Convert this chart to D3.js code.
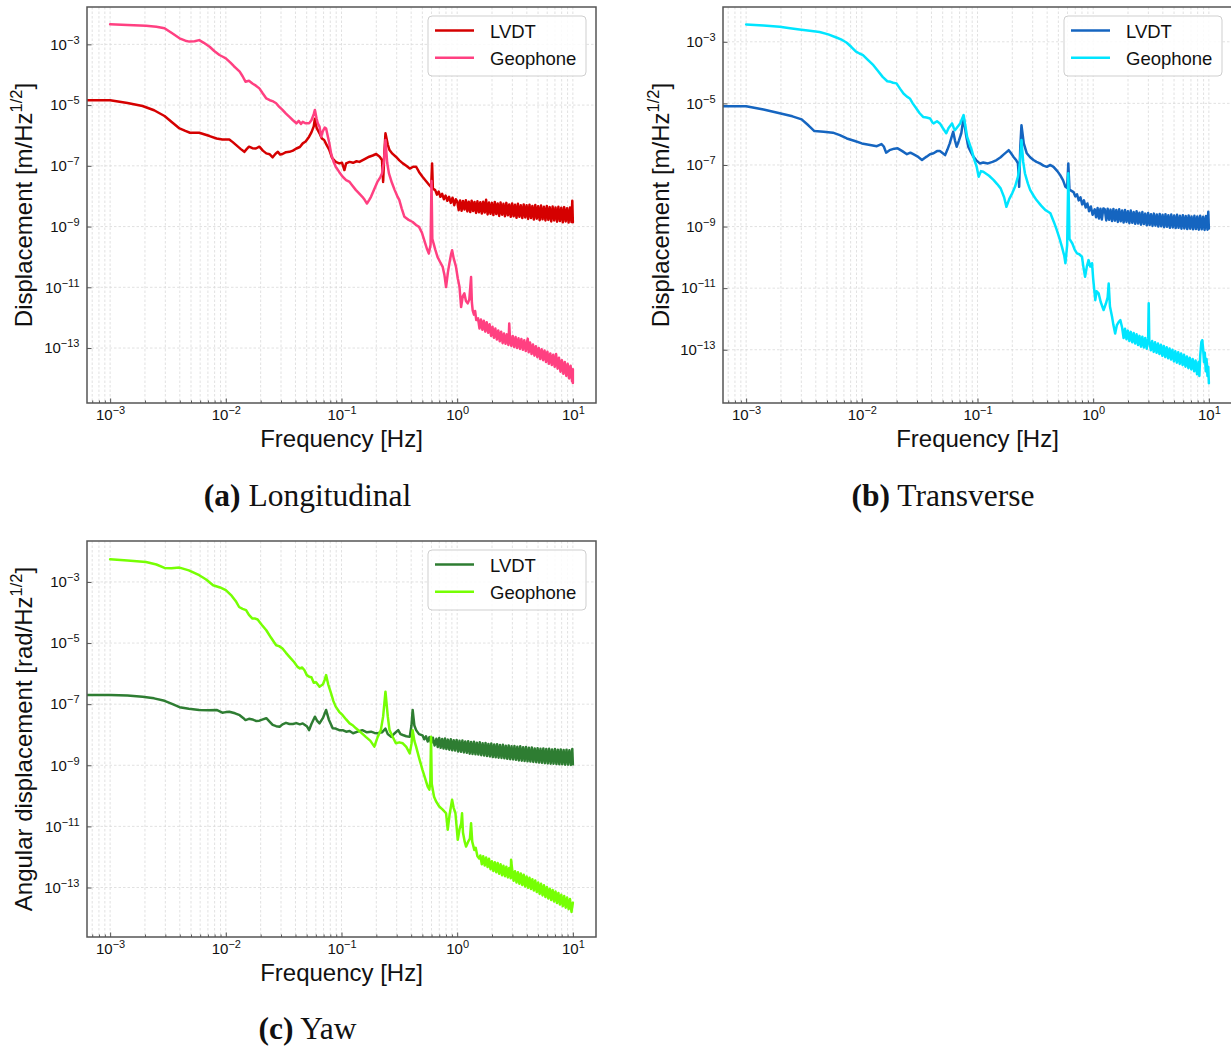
<!DOCTYPE html>
<html><head><meta charset="utf-8">
<script src="https://cdn.jsdelivr.net/npm/d3@7"></script>
<style>html,body{margin:0;padding:0;background:#fff;} svg{display:block;}</style>
</head><body><svg id="chart" width="1231" height="1048"></svg>
<script>
// ---------- tick labels (powers of ten) ----------
const xTickExps = [-3, -2, -1, 0, 1];
const yTickExps = [-3, -5, -7, -9, -11, -13];
const seriesNames = ["LVDT", "Geophone"];
const captions = [["(a)", "Longitudinal"], ["(b)", "Transverse"], ["(c)", "Yaw"]];
const yLabels = [["Displacement [m/Hz", "1/2", "]"], ["Displacement [m/Hz", "1/2", "]"], ["Angular displacement [rad/Hz", "1/2", "]"]];
const xLabel = "Frequency [Hz]";

// ---------- data: [log10(frequency/Hz), log10(ASD)] ----------
const longLvdt = [[-3.3,-4.84],[-3.0,-4.84],[-2.85,-4.93],[-2.72,-5.03],[-2.62,-5.17],[-2.53,-5.36],[-2.46,-5.58],[-2.40,-5.77],[-2.35,-5.85],[-2.31,-5.91],[-2.23,-5.91],[-2.14,-6.02],[-2.08,-6.10],[-2.03,-6.13],[-1.97,-6.13],[-1.94,-6.22],[-1.91,-6.32],[-1.87,-6.45],[-1.84,-6.54],[-1.82,-6.45],[-1.80,-6.37],[-1.77,-6.42],[-1.74,-6.43],[-1.71,-6.37],[-1.68,-6.50],[-1.65,-6.59],[-1.62,-6.62],[-1.595,-6.72],[-1.57,-6.60],[-1.55,-6.54],[-1.53,-6.63],[-1.51,-6.61],[-1.48,-6.55],[-1.45,-6.54],[-1.42,-6.50],[-1.39,-6.43],[-1.36,-6.38],[-1.335,-6.26],[-1.31,-6.20],[-1.28,-6.04],[-1.26,-5.90],[-1.24,-5.70],[-1.23,-5.45],[-1.215,-5.75],[-1.19,-5.93],[-1.17,-6.10],[-1.15,-6.15],[-1.13,-6.30],[-1.105,-6.48],[-1.08,-6.75],[-1.05,-6.87],[-1.02,-6.92],[-0.995,-6.90],[-0.975,-7.14],[-0.96,-6.92],[-0.93,-6.87],[-0.90,-6.90],[-0.87,-6.85],[-0.845,-6.87],[-0.80,-6.78],[-0.76,-6.70],[-0.73,-6.66],[-0.70,-6.61],[-0.67,-6.70],[-0.65,-6.81],[-0.64,-7.53],[-0.63,-6.60],[-0.62,-5.93],[-0.60,-6.30],[-0.585,-6.48],[-0.56,-6.60],[-0.53,-6.70],[-0.50,-6.82],[-0.47,-6.92],[-0.44,-7.00],[-0.41,-7.09],[-0.38,-7.03],[-0.355,-7.03],[-0.33,-7.20],[-0.30,-7.36],[-0.27,-7.50],[-0.24,-7.64],[-0.225,-7.70],[-0.217,-6.92],[-0.21,-7.75],[-0.19,-7.80],[-0.175,-7.95],[-0.16,-7.85],[-0.145,-8.02],[-0.13,-7.92],[-0.115,-8.10],[-0.10,-7.98],[-0.085,-8.15],[-0.07,-8.02],[-0.055,-8.22],[-0.04,-8.05],[-0.025,-8.30],[-0.012,-8.10],
[0.000,-8.17],[0.013,-8.46],[0.025,-8.14],[0.038,-8.48],[0.050,-8.16],[0.063,-8.44],[0.075,-8.13],[0.088,-8.50],
[0.100,-8.18],[0.113,-8.52],[0.125,-8.15],[0.138,-8.49],[0.150,-8.19],[0.163,-8.55],[0.175,-8.17],[0.188,-8.53],
[0.200,-8.20],[0.213,-8.57],[0.225,-8.18],[0.238,-8.54],[0.250,-8.12],[0.263,-8.60],[0.275,-8.21],[0.288,-8.58],
[0.300,-8.22],[0.313,-8.62],[0.325,-8.19],[0.338,-8.59],[0.350,-8.24],[0.363,-8.65],[0.375,-8.21],[0.388,-8.61],
[0.400,-8.25],[0.413,-8.66],[0.425,-8.22],[0.438,-8.63],[0.450,-8.27],[0.463,-8.68],[0.475,-8.24],[0.488,-8.66],
[0.500,-8.28],[0.513,-8.71],[0.525,-8.25],[0.538,-8.68],[0.550,-8.30],[0.563,-8.72],[0.575,-8.27],[0.588,-8.70],
[0.600,-8.30],[0.613,-8.75],[0.625,-8.28],[0.638,-8.72],[0.650,-8.32],[0.663,-8.77],[0.675,-8.29],[0.688,-8.74],
[0.700,-8.33],[0.713,-8.79],[0.725,-8.31],[0.738,-8.76],[0.750,-8.35],[0.763,-8.80],[0.775,-8.32],[0.788,-8.78],
[0.800,-8.36],[0.813,-8.83],[0.825,-8.34],[0.838,-8.80],[0.850,-8.37],[0.863,-8.84],[0.875,-8.35],[0.888,-8.82],
[0.900,-8.38],[0.913,-8.86],[0.925,-8.36],[0.938,-8.83],[0.950,-8.40],[0.963,-8.87],[0.975,-8.37],[0.988,-8.85],
[0.995,-8.15],[1.000,-8.86]];

const longGeo = [[-3.0,-2.34],[-2.85,-2.36],[-2.69,-2.39],[-2.60,-2.42],[-2.53,-2.47],[-2.47,-2.62],[-2.40,-2.80],[-2.35,-2.88],[-2.315,-2.91],[-2.27,-2.90],[-2.23,-2.86],[-2.19,-2.95],[-2.14,-3.08],[-2.10,-3.22],[-2.055,-3.35],[-2.03,-3.40],[-2.0,-3.46],[-1.96,-3.60],[-1.93,-3.72],[-1.91,-3.79],[-1.88,-3.90],[-1.855,-4.05],[-1.83,-4.23],[-1.80,-4.20],[-1.77,-4.29],[-1.74,-4.36],[-1.71,-4.45],[-1.68,-4.62],[-1.65,-4.78],[-1.62,-4.84],[-1.59,-4.88],[-1.565,-4.94],[-1.54,-5.05],[-1.51,-5.16],[-1.48,-5.28],[-1.45,-5.39],[-1.42,-5.50],[-1.39,-5.60],[-1.37,-5.52],[-1.35,-5.62],[-1.335,-5.55],[-1.31,-5.60],[-1.28,-5.60],[-1.26,-5.50],[-1.24,-5.30],[-1.23,-5.16],[-1.215,-5.45],[-1.205,-5.60],[-1.19,-5.71],[-1.176,-6.04],[-1.16,-5.85],[-1.145,-5.74],[-1.133,-5.77],[-1.12,-6.00],[-1.105,-6.26],[-1.09,-6.59],[-1.07,-6.85],[-1.05,-7.03],[-1.02,-7.20],[-0.99,-7.36],[-0.96,-7.47],[-0.93,-7.53],[-0.90,-7.68],[-0.875,-7.80],[-0.85,-7.90],[-0.82,-8.02],[-0.80,-8.12],[-0.78,-8.24],[-0.76,-8.12],[-0.745,-8.02],[-0.72,-7.80],[-0.69,-7.53],[-0.665,-7.38],[-0.65,-7.25],[-0.635,-6.90],[-0.62,-6.15],[-0.605,-6.90],[-0.59,-7.25],[-0.565,-7.55],[-0.54,-7.80],[-0.52,-7.98],[-0.50,-8.13],[-0.48,-8.40],[-0.456,-8.68],[-0.42,-8.78],[-0.385,-8.85],[-0.355,-8.95],[-0.33,-9.01],[-0.305,-9.20],[-0.285,-9.45],[-0.26,-9.75],[-0.245,-9.89],[-0.23,-9.60],[-0.222,-7.50],[-0.215,-9.40],[-0.19,-9.75],[-0.17,-10.0],[-0.15,-10.15],[-0.125,-10.33],[-0.11,-10.60],[-0.096,-10.99],[-0.08,-10.50],[-0.067,-10.21],[-0.055,-9.95],[-0.044,-9.78],[-0.03,-10.05],[-0.01,-10.33],[0.005,-10.70],[0.02,-10.99],[0.034,-11.65],[0.048,-11.30],[0.062,-11.20],[0.076,-11.45],[0.091,-11.53],[0.105,-11.40],[0.12,-10.66],[0.127,-11.50],[0.134,-11.76],[0.145,-11.90],[0.155,-11.78],[0.165,-12.08],
[0.180,-12.02],[0.193,-12.36],[0.205,-12.06],[0.218,-12.40],[0.230,-12.10],[0.243,-12.46],[0.255,-12.15],[0.268,-12.50],[0.280,-12.22],[0.293,-12.60],
[0.305,-12.30],[0.318,-12.66],[0.330,-12.36],[0.343,-12.72],[0.355,-12.42],[0.368,-12.78],[0.380,-12.46],[0.393,-12.84],[0.405,-12.52],[0.418,-12.86],
[0.430,-12.55],[0.443,-12.90],[0.450,-12.19],[0.455,-12.58],[0.468,-12.93],[0.480,-12.60],[0.493,-12.97],[0.505,-12.64],[0.518,-13.00],[0.530,-12.68],[0.543,-13.03],
[0.555,-12.70],[0.568,-13.06],[0.580,-12.74],[0.593,-13.10],[0.605,-12.78],[0.610,-12.69],[0.618,-13.14],[0.630,-12.82],[0.643,-13.20],[0.655,-12.88],[0.668,-13.25],
[0.680,-12.94],[0.693,-13.30],[0.705,-13.00],[0.718,-13.36],[0.730,-13.04],[0.743,-13.40],[0.755,-13.08],[0.768,-13.46],[0.780,-13.12],[0.793,-13.52],
[0.805,-13.18],[0.818,-13.56],[0.830,-13.22],[0.843,-13.62],[0.855,-13.20],[0.868,-13.68],[0.880,-13.32],[0.893,-13.78],[0.905,-13.40],[0.918,-13.85],
[0.930,-13.46],[0.943,-13.92],[0.955,-13.52],[0.968,-14.00],[0.980,-13.58],[0.993,-14.10],[1.000,-13.70],[1.000,-14.15]];

const transLvdt = [[-3.3,-5.09],[-3.0,-5.09],[-2.85,-5.20],[-2.71,-5.32],[-2.60,-5.42],[-2.52,-5.52],[-2.46,-5.72],[-2.41,-5.90],[-2.33,-5.92],[-2.25,-5.95],[-2.19,-6.03],[-2.13,-6.14],[-2.06,-6.22],[-2.0,-6.30],[-1.94,-6.34],[-1.87,-6.39],[-1.83,-6.32],[-1.81,-6.40],[-1.79,-6.60],[-1.76,-6.52],[-1.72,-6.47],[-1.69,-6.46],[-1.65,-6.55],[-1.61,-6.65],[-1.58,-6.60],[-1.555,-6.65],[-1.52,-6.72],[-1.48,-6.84],[-1.46,-6.78],[-1.44,-6.73],[-1.41,-6.65],[-1.38,-6.62],[-1.35,-6.55],[-1.325,-6.55],[-1.30,-6.62],[-1.28,-6.68],[-1.26,-6.50],[-1.24,-6.30],[-1.21,-5.92],[-1.195,-6.20],[-1.18,-6.41],[-1.16,-6.20],[-1.14,-5.97],[-1.12,-5.45],[-1.10,-6.00],[-1.08,-6.41],[-1.055,-6.60],[-1.036,-6.73],[-1.01,-6.85],[-0.98,-6.95],[-0.95,-6.92],[-0.91,-6.95],[-0.87,-6.90],[-0.835,-6.84],[-0.80,-6.75],[-0.78,-6.68],[-0.755,-6.60],[-0.73,-6.52],[-0.71,-6.62],[-0.69,-6.73],[-0.665,-6.85],[-0.65,-6.95],[-0.64,-7.71],[-0.63,-6.40],[-0.62,-5.71],[-0.60,-6.30],[-0.574,-6.62],[-0.545,-6.75],[-0.516,-6.84],[-0.49,-6.90],[-0.46,-6.95],[-0.43,-7.02],[-0.40,-7.06],[-0.37,-7.00],[-0.343,-7.06],[-0.31,-7.20],[-0.285,-7.33],[-0.26,-7.50],[-0.24,-7.71],[-0.225,-7.75],[-0.215,-6.95],[-0.205,-7.80],[-0.17,-7.88],[-0.155,-8.02],[-0.14,-7.95],[-0.125,-8.15],[-0.11,-8.05],[-0.095,-8.28],[-0.08,-8.15],[-0.065,-8.38],[-0.05,-8.25],[-0.035,-8.50],[-0.02,-8.35],[-0.005,-8.62],
[0.013,-8.44],[0.025,-8.70],[0.038,-8.40],[0.050,-8.74],[0.063,-8.42],[0.075,-8.77],[0.088,-8.41],
[0.100,-8.44],[0.113,-8.80],[0.125,-8.42],[0.138,-8.78],[0.150,-8.45],[0.163,-8.82],[0.175,-8.43],[0.188,-8.81],
[0.200,-8.46],[0.213,-8.85],[0.225,-8.44],[0.238,-8.83],[0.250,-8.48],[0.263,-8.87],[0.275,-8.46],[0.288,-8.85],
[0.300,-8.50],[0.313,-8.89],[0.325,-8.48],[0.338,-8.88],[0.350,-8.53],[0.363,-8.91],[0.375,-8.50],[0.388,-8.90],
[0.400,-8.55],[0.413,-8.94],[0.425,-8.53],[0.438,-8.92],[0.450,-8.58],[0.463,-8.96],[0.475,-8.56],[0.488,-8.95],
[0.500,-8.60],[0.513,-8.98],[0.525,-8.58],[0.538,-8.97],[0.550,-8.61],[0.563,-9.00],[0.575,-8.59],[0.588,-8.99],
[0.600,-8.62],[0.613,-9.02],[0.625,-8.60],[0.638,-9.01],[0.650,-8.63],[0.663,-9.04],[0.675,-8.61],[0.688,-9.03],
[0.700,-8.64],[0.713,-9.05],[0.725,-8.62],[0.738,-9.04],[0.750,-8.65],[0.763,-9.07],[0.775,-8.63],[0.788,-9.06],
[0.800,-8.66],[0.813,-9.08],[0.825,-8.64],[0.838,-9.07],[0.850,-8.67],[0.863,-9.09],[0.875,-8.65],[0.888,-9.08],
[0.900,-8.67],[0.913,-9.10],[0.925,-8.65],[0.938,-9.09],[0.950,-8.68],[0.963,-9.11],[0.975,-8.66],[0.988,-9.10],
[0.995,-8.52],[1.000,-9.06]];

const transGeo = [[-3.0,-2.44],[-2.85,-2.47],[-2.71,-2.51],[-2.62,-2.56],[-2.54,-2.60],[-2.45,-2.64],[-2.365,-2.68],[-2.29,-2.76],[-2.22,-2.86],[-2.17,-2.94],[-2.13,-3.03],[-2.09,-3.17],[-2.05,-3.32],[-2.02,-3.38],[-1.99,-3.43],[-1.95,-3.58],[-1.90,-3.76],[-1.86,-3.95],[-1.82,-4.14],[-1.78,-4.28],[-1.75,-4.30],[-1.73,-4.33],[-1.70,-4.35],[-1.67,-4.52],[-1.64,-4.68],[-1.61,-4.78],[-1.585,-4.84],[-1.56,-5.00],[-1.53,-5.16],[-1.50,-5.32],[-1.47,-5.44],[-1.44,-5.46],[-1.41,-5.49],[-1.39,-5.62],[-1.38,-5.65],[-1.35,-5.58],[-1.325,-5.65],[-1.30,-5.80],[-1.27,-5.97],[-1.25,-5.80],[-1.22,-5.65],[-1.205,-5.80],[-1.195,-5.87],[-1.17,-5.75],[-1.15,-5.65],[-1.12,-5.38],[-1.10,-5.85],[-1.09,-6.08],[-1.07,-6.30],[-1.05,-6.52],[-1.03,-6.80],[-1.007,-7.06],[-0.99,-7.38],[-0.97,-7.20],[-0.95,-7.22],[-0.90,-7.35],[-0.86,-7.49],[-0.83,-7.62],[-0.80,-7.76],[-0.77,-8.05],[-0.75,-8.36],[-0.725,-8.10],[-0.70,-7.92],[-0.675,-7.70],[-0.65,-7.38],[-0.635,-7.00],[-0.62,-6.19],[-0.605,-6.90],[-0.59,-7.27],[-0.565,-7.60],[-0.545,-7.81],[-0.515,-8.00],[-0.49,-8.14],[-0.45,-8.32],[-0.415,-8.46],[-0.39,-8.52],[-0.37,-8.57],[-0.34,-8.85],[-0.315,-9.11],[-0.29,-9.40],[-0.27,-9.66],[-0.25,-9.95],[-0.24,-10.19],[-0.225,-9.60],[-0.215,-7.27],[-0.205,-9.40],[-0.18,-9.55],[-0.16,-9.75],[-0.14,-9.87],[-0.12,-9.90],[-0.097,-9.98],[-0.085,-10.30],[-0.07,-10.63],[-0.055,-10.30],[-0.04,-10.09],[-0.025,-10.30],[-0.01,-10.19],[0.0,-10.70],[0.018,-11.39],[0.03,-11.10],[0.047,-11.17],[0.065,-11.45],[0.09,-11.71],[0.11,-11.50],[0.125,-11.30],[0.134,-10.85],[0.145,-11.60],[0.163,-11.93],[0.175,-12.20],[0.19,-12.47],[0.205,-12.20],[0.22,-12.10],[0.235,-12.04],
[0.250,-12.28],[0.263,-12.62],[0.275,-12.32],[0.288,-12.66],[0.300,-12.38],[0.313,-12.72],[0.325,-12.42],[0.338,-12.76],[0.350,-12.46],[0.363,-12.80],[0.375,-12.50],[0.388,-12.85],
[0.400,-12.55],[0.413,-12.90],[0.425,-12.58],[0.438,-12.93],[0.450,-12.62],[0.463,-12.97],[0.475,-12.64],[0.480,-11.49],[0.485,-12.70],[0.498,-13.02],
[0.510,-12.72],[0.523,-13.07],[0.535,-12.76],[0.548,-13.10],[0.560,-12.80],[0.573,-13.14],[0.585,-12.84],[0.598,-13.20],
[0.610,-12.88],[0.623,-13.24],[0.635,-12.92],[0.648,-13.28],[0.660,-12.96],[0.673,-13.32],[0.685,-13.00],[0.698,-13.38],
[0.710,-13.05],[0.723,-13.42],[0.735,-13.08],[0.748,-13.46],[0.760,-13.12],[0.773,-13.50],[0.785,-13.16],[0.798,-13.55],
[0.810,-13.22],[0.823,-13.60],[0.835,-13.26],[0.848,-13.64],[0.860,-13.30],[0.873,-13.70],[0.885,-13.35],[0.898,-13.80],
[0.910,-13.40],[0.918,-13.85],[0.925,-13.20],[0.935,-12.75],[0.943,-12.69],[0.950,-12.95],[0.958,-13.40],[0.965,-13.10],[0.973,-13.70],[0.980,-13.30],[0.988,-13.85],[0.995,-13.55],[1.000,-14.09]];

const yawLvdt = [[-3.3,-6.70],[-3.0,-6.70],[-2.85,-6.72],[-2.72,-6.76],[-2.62,-6.81],[-2.53,-6.89],[-2.46,-7.00],[-2.40,-7.10],[-2.32,-7.15],[-2.23,-7.19],[-2.15,-7.20],[-2.08,-7.19],[-2.03,-7.28],[-2.0,-7.26],[-1.97,-7.25],[-1.92,-7.30],[-1.88,-7.36],[-1.85,-7.45],[-1.83,-7.52],[-1.80,-7.48],[-1.77,-7.50],[-1.74,-7.55],[-1.71,-7.54],[-1.68,-7.50],[-1.65,-7.46],[-1.62,-7.58],[-1.595,-7.68],[-1.565,-7.72],[-1.535,-7.74],[-1.51,-7.66],[-1.48,-7.61],[-1.45,-7.65],[-1.42,-7.65],[-1.39,-7.62],[-1.36,-7.66],[-1.335,-7.63],[-1.30,-7.72],[-1.28,-7.85],[-1.26,-7.65],[-1.23,-7.41],[-1.21,-7.55],[-1.19,-7.63],[-1.16,-7.45],[-1.133,-7.19],[-1.11,-7.50],[-1.076,-7.79],[-1.05,-7.80],[-1.02,-7.85],[-0.99,-7.85],[-0.96,-7.90],[-0.93,-7.88],[-0.90,-7.95],[-0.86,-7.90],[-0.82,-7.85],[-0.78,-7.92],[-0.745,-7.90],[-0.715,-7.94],[-0.69,-7.95],[-0.65,-7.92],[-0.62,-7.80],[-0.60,-7.98],[-0.57,-8.07],[-0.54,-7.95],[-0.51,-7.85],[-0.49,-7.98],[-0.47,-8.01],[-0.44,-8.05],[-0.41,-8.07],[-0.395,-7.70],[-0.385,-7.19],[-0.37,-7.70],[-0.355,-7.85],[-0.33,-7.98],[-0.30,-8.02],[-0.285,-8.15],[-0.27,-8.05],[-0.255,-8.22],[-0.24,-8.08],[-0.225,-8.28],[-0.21,-8.10],[-0.195,-8.35],
[-0.180,-8.13],[-0.168,-8.40],[-0.155,-8.11],[-0.143,-8.43],[-0.130,-8.14],[-0.118,-8.45],[-0.105,-8.12],[-0.093,-8.47],[-0.080,-8.16],[-0.068,-8.49],[-0.055,-8.15],[-0.043,-8.51],[-0.030,-8.18],[-0.018,-8.52],[-0.005,-8.17],
[0.008,-8.55],[0.020,-8.20],[0.033,-8.56],[0.045,-8.19],[0.058,-8.58],[0.070,-8.22],[0.083,-8.59],[0.095,-8.21],
[0.108,-8.62],[0.120,-8.24],[0.133,-8.63],[0.145,-8.23],[0.158,-8.64],[0.170,-8.26],[0.183,-8.65],[0.195,-8.25],
[0.208,-8.67],[0.220,-8.28],[0.233,-8.68],[0.245,-8.27],[0.258,-8.70],[0.270,-8.30],[0.283,-8.71],[0.295,-8.29],
[0.308,-8.73],[0.320,-8.32],[0.333,-8.74],[0.345,-8.31],[0.358,-8.75],[0.370,-8.34],[0.383,-8.76],[0.395,-8.33],
[0.408,-8.77],[0.420,-8.36],[0.433,-8.79],[0.445,-8.35],[0.458,-8.80],[0.470,-8.38],[0.483,-8.81],[0.495,-8.37],
[0.508,-8.82],[0.520,-8.39],[0.533,-8.84],[0.545,-8.38],[0.558,-8.85],[0.570,-8.41],[0.583,-8.86],[0.595,-8.40],
[0.608,-8.87],[0.620,-8.43],[0.633,-8.88],[0.645,-8.42],[0.658,-8.89],[0.670,-8.45],[0.683,-8.90],[0.695,-8.44],
[0.708,-8.91],[0.720,-8.46],[0.733,-8.92],[0.745,-8.45],[0.758,-8.93],[0.770,-8.47],[0.783,-8.94],[0.795,-8.46],
[0.808,-8.95],[0.820,-8.48],[0.833,-8.95],[0.845,-8.47],[0.858,-8.96],[0.870,-8.49],[0.883,-8.97],[0.895,-8.48],
[0.908,-8.97],[0.920,-8.50],[0.933,-8.98],[0.945,-8.49],[0.958,-8.98],[0.970,-8.51],[0.983,-8.99],[0.995,-8.47],[1.000,-8.97]];

const yawGeo = [[-3.0,-2.26],[-2.85,-2.30],[-2.69,-2.35],[-2.60,-2.43],[-2.53,-2.54],[-2.47,-2.55],[-2.40,-2.53],[-2.32,-2.62],[-2.23,-2.78],[-2.17,-2.92],[-2.11,-3.11],[-2.05,-3.18],[-2.0,-3.27],[-1.95,-3.45],[-1.91,-3.65],[-1.885,-3.82],[-1.855,-3.88],[-1.825,-3.92],[-1.80,-4.08],[-1.77,-4.20],[-1.745,-4.20],[-1.725,-4.23],[-1.69,-4.40],[-1.65,-4.58],[-1.61,-4.82],[-1.565,-5.07],[-1.54,-5.10],[-1.51,-5.18],[-1.48,-5.32],[-1.45,-5.45],[-1.41,-5.62],[-1.38,-5.78],[-1.36,-5.83],[-1.34,-5.80],[-1.32,-5.89],[-1.30,-6.05],[-1.28,-6.10],[-1.26,-6.12],[-1.24,-6.30],[-1.22,-6.28],[-1.19,-6.43],[-1.16,-6.35],[-1.145,-6.20],[-1.133,-6.05],[-1.115,-6.35],[-1.09,-6.65],[-1.07,-6.90],[-1.05,-7.08],[-1.02,-7.25],[-0.99,-7.36],[-0.96,-7.50],[-0.93,-7.63],[-0.90,-7.70],[-0.875,-7.79],[-0.84,-7.90],[-0.79,-8.07],[-0.75,-8.20],[-0.716,-8.39],[-0.69,-8.10],[-0.66,-7.85],[-0.64,-7.40],[-0.62,-6.59],[-0.60,-7.40],[-0.585,-7.85],[-0.56,-8.05],[-0.53,-8.28],[-0.50,-8.25],[-0.47,-8.28],[-0.44,-8.40],[-0.41,-8.61],[-0.395,-8.30],[-0.385,-7.85],[-0.37,-8.20],[-0.355,-8.39],[-0.33,-8.75],[-0.30,-9.15],[-0.275,-9.45],[-0.255,-9.70],[-0.24,-9.80],[-0.232,-9.50],[-0.226,-8.07],[-0.22,-9.60],[-0.20,-10.03],[-0.18,-10.20],[-0.155,-10.35],[-0.125,-10.45],[-0.096,-10.57],[-0.082,-11.11],[-0.065,-10.60],[-0.044,-10.13],[-0.03,-10.40],[-0.015,-10.57],[0.005,-11.44],[0.02,-11.10],[0.035,-10.90],[0.042,-10.57],[0.05,-11.20],[0.065,-11.50],[0.077,-11.66],[0.095,-11.50],[0.11,-11.40],[0.12,-10.90],[0.13,-11.50],[0.148,-11.77],[0.16,-11.70],[0.175,-11.98],[0.19,-12.05],
[0.200,-11.95],[0.213,-12.24],[0.225,-11.98],[0.238,-12.28],[0.250,-12.02],[0.263,-12.33],[0.275,-12.06],[0.288,-12.40],
[0.300,-12.14],[0.313,-12.46],[0.325,-12.17],[0.338,-12.50],[0.350,-12.20],[0.363,-12.55],[0.375,-12.24],[0.388,-12.60],
[0.400,-12.29],[0.413,-12.63],[0.425,-12.32],[0.438,-12.67],[0.450,-12.36],[0.463,-12.70],[0.466,-12.09],[0.475,-12.40],[0.488,-12.78],
[0.500,-12.47],[0.513,-12.84],[0.525,-12.50],[0.538,-12.88],[0.550,-12.54],[0.563,-12.92],[0.575,-12.58],[0.588,-12.97],
[0.600,-12.64],[0.613,-13.01],[0.625,-12.68],[0.638,-13.05],[0.650,-12.73],[0.663,-13.10],[0.675,-12.77],[0.688,-13.15],
[0.700,-12.84],[0.713,-13.21],[0.725,-12.88],[0.738,-13.26],[0.750,-12.93],[0.763,-13.31],[0.775,-12.98],[0.788,-13.36],
[0.800,-13.04],[0.813,-13.41],[0.825,-13.08],[0.838,-13.46],[0.850,-13.13],[0.863,-13.51],[0.875,-13.18],[0.888,-13.56],
[0.900,-13.24],[0.913,-13.61],[0.925,-13.28],[0.938,-13.66],[0.950,-13.33],[0.963,-13.71],[0.975,-13.38],[0.988,-13.80],[1.000,-13.50]];

// ---------- layout ----------
const SANS = "'Liberation Sans', Arial, Helvetica, sans-serif";
const SERIF = "'Liberation Serif', 'Times New Roman', serif";
const xDomExp = [-3.2, 1.2];
const panels = [
  {lvdt: longLvdt, geo: longGeo, colors: ["#d50000", "#ff4081"], left: 87, top: 7, width: 509, height: 396, yDomExp: [-14.81, -1.77], ylabel: yLabels[0], ylabelX: 32, caption: captions[0], capX: 307.5, capY: 506},
  {lvdt: transLvdt, geo: transGeo, colors: ["#1565c0", "#00e5ff"], left: 723, top: 7, width: 509, height: 396, yDomExp: [-14.73, -1.87], ylabel: yLabels[1], ylabelX: 669, caption: captions[1], capX: 943, capY: 506},
  {lvdt: yawLvdt, geo: yawGeo, colors: ["#2e7d32", "#76ff03"], left: 87, top: 541, width: 509, height: 396, yDomExp: [-14.62, -1.66], ylabel: yLabels[2], ylabelX: 32, caption: captions[2], capX: 307.5, capY: 1039}
];

const svg = d3.select("#chart");
const fmtExp = e => (e < 0 ? "\u2212" : "") + Math.abs(e);

panels.forEach((p, i) => {
  const g = svg.append("g");
  const x = d3.scaleLog().domain([10 ** xDomExp[0], 10 ** xDomExp[1]]).range([p.left, p.left + p.width]);
  const y = d3.scaleLog().domain([10 ** p.yDomExp[0], 10 ** p.yDomExp[1]]).range([p.top + p.height, p.top]);
  const bottom = p.top + p.height;

  const xMajor = xTickExps.map(e => 10 ** e);
  const xMinor = [];
  for (let e = xTickExps[0] - 1; e <= xTickExps[xTickExps.length - 1]; e++) {
    for (let k = 2; k <= 9; k++) {
      const v = k * 10 ** e;
      if (v > x.domain()[0] && v < x.domain()[1]) xMinor.push(v);
    }
  }
  const yMajor = yTickExps.map(e => 10 ** e);

  // grid
  const grid = g.append("g").attr("stroke", "#d9d9d9").attr("stroke-width", 0.8).attr("stroke-dasharray", "2.5,2");
  grid.selectAll("line.gx").data(xMajor.concat(xMinor)).join("line").attr("class", "gx")
    .attr("x1", d => x(d)).attr("x2", d => x(d)).attr("y1", p.top).attr("y2", bottom);
  grid.selectAll("line.gy").data(yMajor).join("line").attr("class", "gy")
    .attr("x1", p.left).attr("x2", p.left + p.width).attr("y1", d => y(d)).attr("y2", d => y(d));

  // data lines
  const clipId = "clip" + i;
  svg.append("clipPath").attr("id", clipId).append("rect")
    .attr("x", p.left).attr("y", p.top).attr("width", p.width).attr("height", p.height);
  const line = d3.line().x(d => x(10 ** d[0])).y(d => y(10 ** d[1]));
  [p.lvdt, p.geo].forEach((s, j) => {
    g.append("path").datum(s).attr("d", line).attr("fill", "none")
      .attr("stroke", p.colors[j]).attr("stroke-width", 2.5)
      .attr("stroke-linejoin", "round").attr("stroke-linecap", "round")
      .attr("clip-path", `url(#${clipId})`);
  });

  // axes (ticks pointing inward)
  const gxMin = g.append("g").attr("transform", `translate(0,${bottom})`)
    .call(d3.axisBottom(x).tickValues(xMinor).tickSize(-2.5).tickFormat(() => ""));
  gxMin.select(".domain").remove();
  const gx = g.append("g").attr("transform", `translate(0,${bottom})`)
    .call(d3.axisBottom(x).tickValues(xMajor).tickSize(-4.5).tickPadding(6.5).tickFormat(() => ""));
  gx.select(".domain").remove();
  gx.selectAll(".tick text").each(function (d, k) {
    const t = d3.select(this).text(null);
    t.append("tspan").text("10");
    t.append("tspan").attr("dy", -6).attr("font-size", 11).text(fmtExp(xTickExps[k]));
  });
  const gy = g.append("g").attr("transform", `translate(${p.left},0)`)
    .call(d3.axisLeft(y).tickValues(yMajor).tickSize(-4.5).tickPadding(7.5).tickFormat(() => ""));
  gy.select(".domain").remove();
  gy.selectAll(".tick text").each(function (d, k) {
    const t = d3.select(this).text(null);
    t.append("tspan").text("10");
    t.append("tspan").attr("dy", -6).attr("font-size", 11).text(fmtExp(yTickExps[k]));
  });
  [gxMin, gx, gy].forEach(a => {
    a.attr("font-family", SANS).attr("font-size", 15);
    a.selectAll(".tick line").attr("stroke", "#555").attr("stroke-width", 1);
    a.selectAll(".tick text").attr("fill", "#111");
  });

  // frame
  g.append("rect").attr("x", p.left).attr("y", p.top).attr("width", p.width).attr("height", p.height)
    .attr("fill", "none").attr("stroke", "#555").attr("stroke-width", 1.5);

  // legend
  const lg = g.append("g").attr("transform", `translate(${p.left + p.width - 168},${p.top + 9})`);
  lg.append("rect").attr("width", 158).attr("height", 60).attr("rx", 4)
    .attr("fill", "#fff").attr("fill-opacity", 0.85).attr("stroke", "#cfcfcf").attr("stroke-width", 1);
  seriesNames.forEach((name, j) => {
    const yy = 14.5 + j * 27.3;
    lg.append("line").attr("x1", 7).attr("x2", 46).attr("y1", yy).attr("y2", yy)
      .attr("stroke", p.colors[j]).attr("stroke-width", 2.5);
    lg.append("text").attr("x", 62).attr("y", yy + 7).attr("font-family", SANS)
      .attr("font-size", 18.5).attr("fill", "#111").text(name);
  });

  // axis labels
  g.append("text").attr("x", p.left + p.width / 2).attr("y", bottom + 44)
    .attr("text-anchor", "middle").attr("font-family", SANS).attr("font-size", 24).attr("fill", "#111").text(xLabel);
  const yl = g.append("text")
    .attr("transform", `translate(${p.ylabelX},${p.top + p.height / 2}) rotate(-90)`)
    .attr("text-anchor", "middle").attr("font-family", SANS).attr("font-size", 24).attr("fill", "#111");
  yl.append("tspan").text(p.ylabel[0]);
  yl.append("tspan").attr("dy", -10).attr("font-size", 16.5).text(p.ylabel[1]);
  yl.append("tspan").attr("dy", 10).text(p.ylabel[2]);

  // caption
  const cap = g.append("text").attr("x", p.capX).attr("y", p.capY).attr("text-anchor", "middle")
    .attr("font-family", SERIF).attr("font-size", 31.5).attr("fill", "#111").style("white-space", "pre");
  cap.append("tspan").attr("font-weight", "bold").text(p.caption[0]);
  cap.append("tspan").text(" " + p.caption[1]);
});
</script>
</body></html>
